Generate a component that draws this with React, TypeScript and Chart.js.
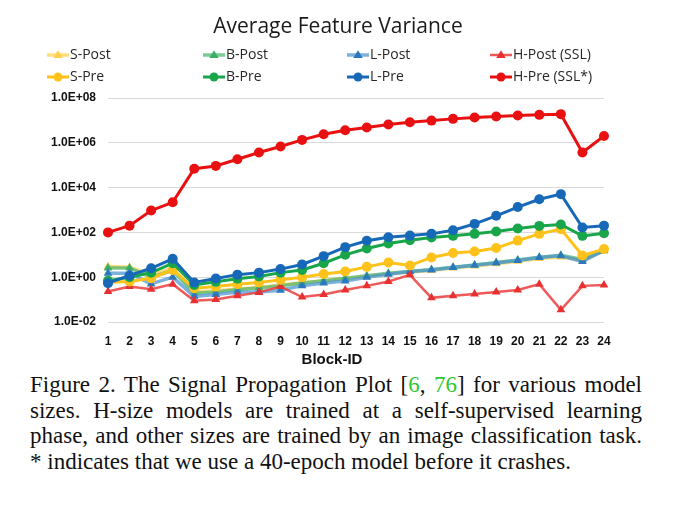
import React, { useEffect, useRef } from "react";
import { Chart, registerables } from "chart.js";
Chart.register(...registerables);

const blocks = ["1","2","3","4","5","6","7","8","9","10","11","12","13","14","15","16","17","18","19","20","21","22","23","24"];

const hPre = [100, 200, 950, 2200, 70000, 93000, 185000, 370000, 680000, 1350000, 2400000, 3600000, 4800000, 6600000, 8300000, 9800000, 11700000, 13500000, 15000000, 16500000, 17700000, 19000000, 370000, 2000000];
const lPre = [0.54, 1.2, 2.5, 6.6, 0.58, 0.87, 1.3, 1.6, 2.3, 3.7, 8.7, 22, 42, 61, 72, 86, 125, 240, 550, 1350, 3000, 5100, 165, 200];
const bPre = [0.7, 1.0, 1.6, 4.2, 0.45, 0.62, 0.85, 1.07, 1.6, 2.1, 4.2, 10, 19, 32, 45, 59, 70, 86, 110, 148, 195, 225, 70, 92];
const sPre = [0.6, 0.65, 0.9, 2.1, 0.32, 0.38, 0.49, 0.58, 0.76, 1.0, 1.4, 1.8, 2.9, 4.5, 3.3, 7.6, 12, 14, 20, 43, 86, 140, 9.3, 18];
const hPost = [0.23, 0.38, 0.29, 0.49, 0.088, 0.1, 0.15, 0.21, 0.38, 0.13, 0.17, 0.27, 0.41, 0.64, 1.27, 0.12, 0.15, 0.18, 0.22, 0.27, 0.49, 0.035, 0.41, 0.45];
const sPost = [3.0, 2.8, 1.3, 2.5, 0.22, 0.25, 0.3, 0.35, 0.45, 0.55, 0.7, 0.85, 1.1, 1.4, 1.7, 2.0, 2.6, 3.2, 4.0, 5.2, 6.8, 8.0, 5.8, 15];
const bPost = [2.6, 2.6, 1.0, 2.0, 0.19, 0.22, 0.28, 0.33, 0.42, 0.55, 0.7, 0.9, 1.15, 1.5, 1.8, 2.2, 2.8, 3.5, 4.5, 5.8, 7.8, 9.6, 6.2, 15];
const lPost = [1.5, 1.5, 0.5, 1.0, 0.14, 0.17, 0.22, 0.22, 0.26, 0.42, 0.55, 0.68, 1.0, 1.35, 1.8, 2.1, 2.7, 3.4, 4.3, 5.6, 7.5, 9.0, 5.0, 16];

const yTickValues = [1e-2, 1, 1e2, 1e4, 1e6, 1e8];
const yTickLabels = ["1.0E-02", "1.0E+00", "1.0E+02", "1.0E+04", "1.0E+06", "1.0E+08"];

const chartTitle = "Average Feature Variance";
const xTitle = "Block-ID";

type Item = { label: string; data: number[]; line: string; point: string; style: "circle" | "triangle"; width: number };

const series: Item[] = [
  { label: "H-Pre (SSL*)", data: hPre, line: "#E81010", point: "#E81010", style: "circle", width: 3 },
  { label: "L-Pre", data: lPre, line: "#1769B8", point: "#1769B8", style: "circle", width: 3 },
  { label: "B-Pre", data: bPre, line: "#19A64A", point: "#19A64A", style: "circle", width: 3 },
  { label: "S-Pre", data: sPre, line: "#FFC21A", point: "#FFC21A", style: "circle", width: 3 },
  { label: "H-Post (SSL)", data: hPost, line: "rgba(236,60,60,0.85)", point: "#E83030", style: "triangle", width: 2.5 },
  { label: "L-Post", data: lPost, line: "rgba(80,150,210,0.75)", point: "#2B78BC", style: "triangle", width: 3.5 },
  { label: "B-Post", data: bPost, line: "rgba(70,180,110,0.7)", point: "#3AAE66", style: "triangle", width: 3.5 },
  { label: "S-Post", data: sPost, line: "rgba(255,214,90,0.8)", point: "#FFD04A", style: "triangle", width: 3.5 },
];

const legendOrder = [
  ["S-Post", "B-Post", "L-Post", "H-Post (SSL)"],
  ["S-Pre", "B-Pre", "L-Pre", "H-Pre (SSL*)"],
];
const legendX = [47, 203, 347, 490];
const legendY = [55, 77];

const captionLines = [
  [{ t: "Figure 2.  The Signal Propagation Plot [" }, { t: "6", g: true }, { t: ", " }, { t: "76", g: true }, { t: "] for various model" }],
  [{ t: "sizes.  H-size models are trained at a self-supervised learning" }],
  [{ t: "phase, and other sizes are trained by an image classification task." }],
  [{ t: "* indicates that we use a 40-epoch model before it crashes." }],
];

function drawMarker(ctx: CanvasRenderingContext2D, style: string, x: number, y: number, r: number, color: string) {
  ctx.fillStyle = color;
  ctx.beginPath();
  if (style === "circle") {
    ctx.arc(x, y, r, 0, Math.PI * 2);
  } else {
    const h = r * 1.7;
    ctx.moveTo(x, y - h * 0.62);
    ctx.lineTo(x + r * 1.05, y + h * 0.38);
    ctx.lineTo(x - r * 1.05, y + h * 0.38);
    ctx.closePath();
  }
  ctx.fill();
}

const overlay = {
  id: "overlay",
  afterDraw(chart: any) {
    const ctx: CanvasRenderingContext2D = chart.ctx;
    ctx.save();
    ctx.fillStyle = "#1a1a1a";
    ctx.font = "21px 'Open Sans'";
    ctx.textAlign = "center";
    ctx.textBaseline = "middle";
    ctx.fillText(chartTitle, 338, 27);

    ctx.font = "bold 15px 'Liberation Sans'";
    ctx.fillStyle = "#111";
    ctx.fillText(xTitle, 332, 360);

    ctx.textAlign = "left";
    ctx.font = "14px 'Open Sans'";
    legendOrder.forEach((row, ri) => {
      row.forEach((lab, ci) => {
        const s = series.find((d) => d.label === lab)!;
        const x0 = legendX[ci];
        const y = legendY[ri];
        ctx.strokeStyle = s.line;
        ctx.lineWidth = s.width;
        ctx.beginPath();
        ctx.moveTo(x0, y);
        ctx.lineTo(x0 + 22, y);
        ctx.stroke();
        drawMarker(ctx, s.style, x0 + 11, y, 4.5, s.point);
        ctx.fillStyle = "#262626";
        ctx.fillText(lab, x0 + 23, y);
      });
    });
    ctx.restore();
  },
};

export default function App() {
  const ref = useRef<HTMLCanvasElement>(null);
  useEffect(() => {
    const chart = new Chart(ref.current as HTMLCanvasElement, {
      type: "line",
      data: {
        labels: blocks,
        datasets: series.map((s) => ({
          label: s.label,
          data: s.data,
          borderColor: s.line,
          backgroundColor: s.point,
          pointBackgroundColor: s.point,
          pointBorderColor: s.point,
          pointBorderWidth: 0,
          pointStyle: s.style,
          pointRadius: s.style === "circle" ? 5 : 5,
          borderWidth: s.width,
          tension: 0,
          clip: false as any,
        })),
      },
      options: {
        responsive: false,
        animation: false,
        layout: { padding: { top: 98, right: 69, left: 0, bottom: 0 } },
        plugins: { legend: { display: false }, title: { display: false }, tooltip: { enabled: false } },
        scales: {
          x: {
            type: "category",
            offset: false,
            grid: { display: false, drawTicks: false },
            border: { display: false },
            ticks: { font: { family: "'Liberation Sans'", size: 12, weight: "bold" }, color: "#111", padding: 12, maxRotation: 0, autoSkip: false },
            afterFit: (s: any) => { s.height = 48; },
          },
          y: {
            type: "logarithmic",
            min: 1e-2,
            max: 1e8,
            afterBuildTicks: (s: any) => { s.ticks = yTickValues.map((v) => ({ value: v })); },
            ticks: {
              font: { family: "'Liberation Sans'", size: 12, weight: "bold" },
              color: "#111",
              padding: 12,
              callback: (v: any) => yTickLabels[yTickValues.indexOf(Number(v))] ?? "",
            },
            grid: { color: "#d9d9d9", drawTicks: false, lineWidth: 1 },
            border: { display: false },
            afterFit: (s: any) => { s.width = 108; },
          },
        },
      } as any,
      plugins: [overlay],
    });
    return () => chart.destroy();
  }, []);

  return (
    <div style={{ position: "absolute", left: 0, top: 0, width: 673, height: 509, background: "#fff", overflow: "hidden" }}>
      <canvas ref={ref} width={673} height={370} style={{ position: "absolute", left: 0, top: 0, width: 673, height: 370 }} />
      <div style={{ position: "absolute", left: 30, top: 372, width: 612, fontFamily: "'Liberation Serif', serif", fontSize: 23, lineHeight: "25.7px", color: "#111" }}>
        {captionLines.map((line, i) => (
          <div key={i} style={{ textAlign: "justify", textAlignLast: i < captionLines.length - 1 ? "justify" : "left", whiteSpace: "nowrap" } as any}>
            {line.map((p: any, j: number) => (
              <span key={j} style={{ color: p.g ? "#2fc62f" : undefined }}>{p.t}</span>
            ))}
          </div>
        ))}
      </div>
    </div>
  );
}
